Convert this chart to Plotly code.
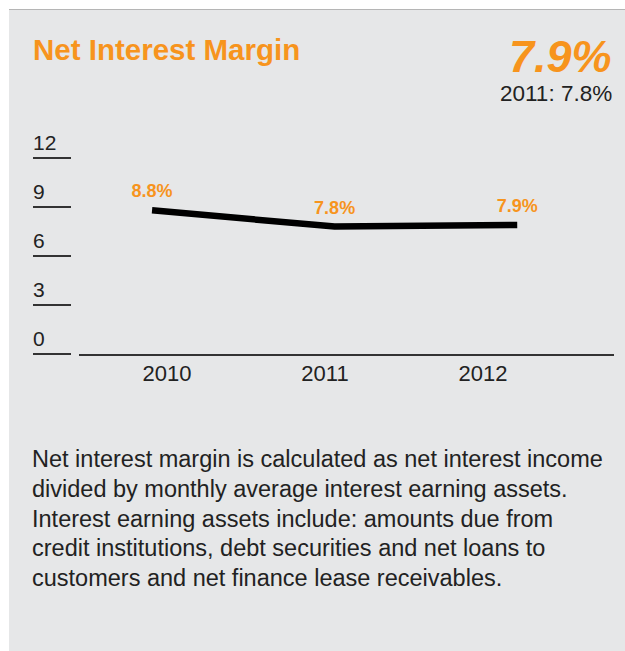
import plotly.graph_objects as go

# ---- data ----
years = ["2010", "2011", "2012"]
nim_values = [8.8, 7.8, 7.9]
value_labels = ["8.8%", "7.8%", "7.9%"]
y_ticks = [0, 3, 6, 9, 12]
title_text = "Net Interest Margin"
headline_value = "7.9%"
headline_prior = "2011: 7.8%"
description_lines = [
    "Net interest margin is calculated as net interest income",
    "divided by monthly average interest earning assets.",
    "Interest earning assets include: amounts due from",
    "credit institutions, debt securities and net loans to",
    "customers and net finance lease receivables.",
]

W, H = 625, 651
ORANGE = "#f7941d"
PANEL = "#e6e7e8"
TEXT = "#222222"
FONT = "Liberation Sans, Arial, Helvetica, sans-serif"


def px(x):
    return x / W


def py(y):
    return 1 - y / H


idx = list(range(len(years)))

fig = go.Figure()

# main line (on x / y)
fig.add_trace(go.Scatter(
    x=idx, y=nim_values, xaxis="x", yaxis="y",
    mode="lines+markers+text",
    text=value_labels,
    textposition="top center",
    textfont=dict(family=FONT, size=18, color=ORANGE, weight="bold"),
    line=dict(color="#000000", width=6.5),
    marker=dict(size=12, opacity=0, color="#000000"),
    cliponaxis=False,
    hoverinfo="skip",
    showlegend=False,
))
# carrier for the category label axis (nothing visible)
fig.add_trace(go.Scatter(
    x=idx, y=nim_values, xaxis="x2", yaxis="y",
    mode="markers", marker=dict(opacity=0, size=1),
    hoverinfo="skip", showlegend=False,
))

annotations = []
annotations.append(dict(
    text=title_text, x=px(31), y=py(50), xref="paper", yref="paper",
    xanchor="left", yanchor="middle", showarrow=False,
    font=dict(family=FONT, size=29.5, color=ORANGE, weight="bold"),
))
annotations.append(dict(
    text=headline_value, x=px(614), y=py(56.5), xref="paper", yref="paper",
    xanchor="right", yanchor="middle", showarrow=False,
    font=dict(family=FONT, size=45, color=ORANGE, weight="bold", style="italic"),
))
annotations.append(dict(
    text=headline_prior, x=px(614), y=py(93.5), xref="paper", yref="paper",
    xanchor="right", yanchor="middle", showarrow=False,
    font=dict(family=FONT, size=22.5, color=TEXT),
))
for t in y_ticks:
    annotations.append(dict(
        text=str(t), x=px(31), y=t, xref="paper", yref="y",
        xanchor="left", yanchor="middle", yshift=15.5, showarrow=False,
        font=dict(family=FONT, size=21, color=TEXT),
    ))
desc_centers = [459, 488.7, 518.5, 548.3, 578.2]
for line, yc in zip(description_lines, desc_centers):
    annotations.append(dict(
        text=line, x=px(30), y=py(yc), xref="paper", yref="paper",
        xanchor="left", yanchor="middle", showarrow=False,
        font=dict(family=FONT, size=23.5, color=TEXT),
    ))

shapes = [
    dict(type="rect", xref="paper", yref="paper", x0=px(9), x1=1, y0=0, y1=py(9.5),
         fillcolor=PANEL, line=dict(width=0), layer="below"),
    dict(type="line", xref="paper", yref="paper", x0=px(9), x1=1, y0=py(9.5), y1=py(9.5),
         line=dict(color="#b5b5b5", width=1.2), layer="below"),
]

fig.update_layout(
    width=W, height=H,
    margin=dict(l=0, r=0, t=0, b=0),
    paper_bgcolor="#ffffff",
    plot_bgcolor="rgba(0,0,0,0)",
    font=dict(family=FONT, color=TEXT),
    xaxis=dict(
        domain=[px(79), px(614)],
        range=[-0.4, 2.53],
        showline=True, linecolor="#333333", linewidth=1.5,
        ticks="", showticklabels=False, showgrid=False, zeroline=False,
        anchor="y", fixedrange=True,
    ),
    xaxis2=dict(
        overlaying="x", anchor="y", side="bottom",
        range=[-0.557, 2.829],
        tickvals=idx, ticktext=years,
        ticks="", showline=False, showgrid=False, zeroline=False,
        tickfont=dict(family=FONT, size=22, color=TEXT),
        ticklabelstandoff=4,
        fixedrange=True,
    ),
    yaxis=dict(
        domain=[py(354), py(158)],
        range=[0, 12],
        anchor="free", position=px(71), side="left",
        tickvals=y_ticks, showticklabels=False,
        ticks="outside", ticklen=38, tickwidth=1.5, tickcolor="#333333",
        showline=False, showgrid=False, zeroline=False, fixedrange=True,
    ),
    annotations=annotations,
    shapes=shapes,
)

fig.write_html(
    "out.html",
    config={"displayModeBar": False},
    post_script="document.body.style.margin='0';document.body.style.overflow='hidden';",
)
